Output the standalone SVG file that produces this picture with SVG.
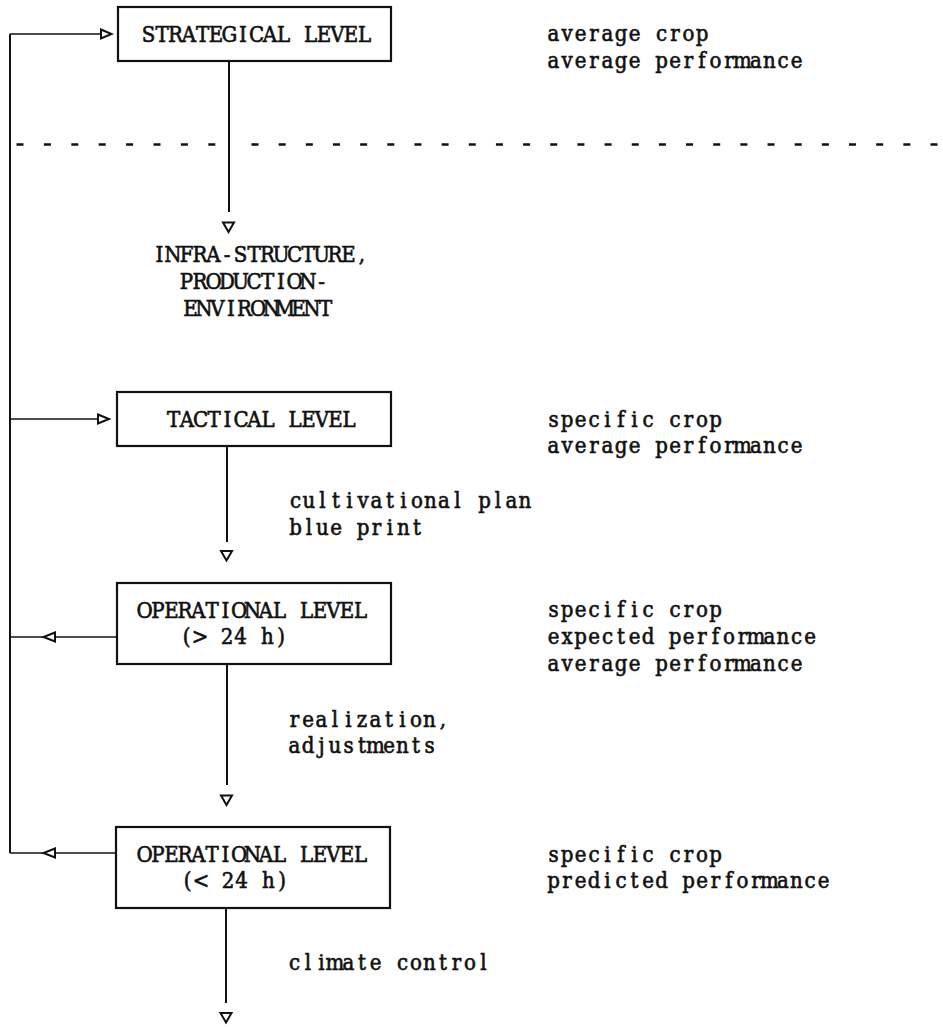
<svg xmlns="http://www.w3.org/2000/svg" width="943" height="1027" viewBox="0 0 943 1027">
<style>
text{font-family:"DejaVu Serif Condensed","DejaVu Serif","Liberation Serif",serif;font-stretch:condensed;font-size:22px;fill:#111;stroke:#111;stroke-width:0.6px;text-anchor:middle}
.box{fill:#fff;stroke:#111;stroke-width:2.2}
.ln{fill:none;stroke:#111;stroke-width:2}
.thin{fill:none;stroke:#111;stroke-width:1.6}
.head{fill:#fff;stroke:#111;stroke-width:2;stroke-linejoin:miter}
.dash{fill:none;stroke:#111;stroke-width:2.6}
</style>
<rect width="943" height="1027" fill="#fff"/>
<g id="connectors">
<path class="ln" d="M10,34 V853"/>
<path class="thin" d="M10,34 H101"/>
<polygon class="head" points="101,29.5 111.5,34 101,38.5"/>
<path class="thin" d="M10,419 H98"/>
<polygon class="head" points="98,414.5 109,419 98,423.5"/>
<path class="thin" d="M10,637 H117"/>
<polygon class="head" points="55,632.5 43.5,637 55,641.5"/>
<path class="thin" d="M10,853 H116"/>
<polygon class="head" points="55,848.5 43.5,853 55,857.5"/>
<path class="dash" d="M16.5,144.5 H216" stroke-dasharray="7 20.4"/>
<path class="dash" d="M251.5,144.5 H943" stroke-dasharray="7 20.16"/>
<path class="ln" d="M229,61 V212"/>
<polygon class="head" points="223,222.5 234,222.5 228.5,232"/>
<path class="ln" d="M227,446 V542"/>
<polygon class="head" points="221,551 232,551 226.5,560.5"/>
<path class="ln" d="M227,664 V785"/>
<polygon class="head" points="221,795.5 232,795.5 226.5,805"/>
<path class="ln" d="M226,908 V1003"/>
<polygon class="head" points="220.5,1013 231.5,1013 226,1022.5"/>
</g>
<g id="strategical">
<rect class="box" x="118" y="7" width="273" height="54"/>
<text y="42" x="148.5 162 175.5 189 202.5 216 229.5 243 256.5 270 283.5 297 310.5 324 337.5 351 364.5">STRATEGICAL LEVEL</text>
</g>
<g id="strategical-notes">
<text y="41" x="553.5 567 580.5 594 607.5 621 634.5 648 661.5 675 688.5 702">average crop</text>
<text y="68" x="553.5 567 580.5 594 607.5 621 634.5 648 661.5 675 688.5 702 715.5 729 742.5 756 769.5 783 796.5">average performance</text>
</g>
<g id="infrastructure">
<text y="262" x="159.5 173 186.5 200 213.5 227 240.5 254 267.5 281 294.5 308 321.5 335 348.5 362">INFRA-STRUCTURE,</text>
<text y="289" x="186.5 200 213.5 227 240.5 254 267.5 281 294.5 308 321.5">PRODUCTION-</text>
<text y="316" x="190.5 204 217.5 231 244.5 258 271.5 285 298.5 312 325.5">ENVIRONMENT</text>
</g>
<g id="tactical">
<rect class="box" x="117" y="392" width="274" height="54"/>
<text y="427" x="173.5 187 200.5 214 227.5 241 254.5 268 281.5 295 308.5 322 335.5 349">TACTICAL LEVEL</text>
</g>
<g id="tactical-notes">
<text y="427" x="553.5 567 580.5 594 607.5 621 634.5 648 661.5 675 688.5 702 715.5">specific crop</text>
<text y="453" x="553.5 567 580.5 594 607.5 621 634.5 648 661.5 675 688.5 702 715.5 729 742.5 756 769.5 783 796.5">average performance</text>
</g>
<g id="plan-label">
<text y="508" x="295.5 309 322.5 336 349.5 363 376.5 390 403.5 417 430.5 444 457.5 471 484.5 498 511.5 525">cultivational plan</text>
<text y="535" x="295.5 309 322.5 336 349.5 363 376.5 390 403.5 417">blue print</text>
</g>
<g id="operational-long">
<rect class="box" x="117" y="583" width="274" height="81"/>
<text y="618" x="144.5 158 171.5 185 198.5 212 225.5 239 252.5 266 279.5 293 306.5 320 333.5 347 360.5">OPERATIONAL LEVEL</text>
<text y="644" x="186.5 200 213.5 227 240.5 254 267.5 281">(&gt; 24 h)</text>
</g>
<g id="operational-long-notes">
<text y="617" x="553.5 567 580.5 594 607.5 621 634.5 648 661.5 675 688.5 702 715.5">specific crop</text>
<text y="644" x="553.5 567 580.5 594 607.5 621 634.5 648 661.5 675 688.5 702 715.5 729 742.5 756 769.5 783 796.5 810">expected performance</text>
<text y="671" x="553.5 567 580.5 594 607.5 621 634.5 648 661.5 675 688.5 702 715.5 729 742.5 756 769.5 783 796.5">average performance</text>
</g>
<g id="realization-label">
<text y="727" x="294.5 308 321.5 335 348.5 362 375.5 389 402.5 416 429.5 443">realization,</text>
<text y="753" x="294.5 308 321.5 335 348.5 362 375.5 389 402.5 416 429.5">adjustments</text>
</g>
<g id="operational-short">
<rect class="box" x="116" y="827" width="274" height="81"/>
<text y="862" x="144.5 158 171.5 185 198.5 212 225.5 239 252.5 266 279.5 293 306.5 320 333.5 347 360.5">OPERATIONAL LEVEL</text>
<text y="888" x="187.5 201 214.5 228 241.5 255 268.5 282">(&lt; 24 h)</text>
</g>
<g id="operational-short-notes">
<text y="862" x="553.5 567 580.5 594 607.5 621 634.5 648 661.5 675 688.5 702 715.5">specific crop</text>
<text y="888" x="553.5 567 580.5 594 607.5 621 634.5 648 661.5 675 688.5 702 715.5 729 742.5 756 769.5 783 796.5 810 823.5">predicted performance</text>
</g>
<g id="climate-label">
<text y="970" x="294.5 308 321.5 335 348.5 362 375.5 389 402.5 416 429.5 443 456.5 470 483.5">climate control</text>
</g>
</svg>
